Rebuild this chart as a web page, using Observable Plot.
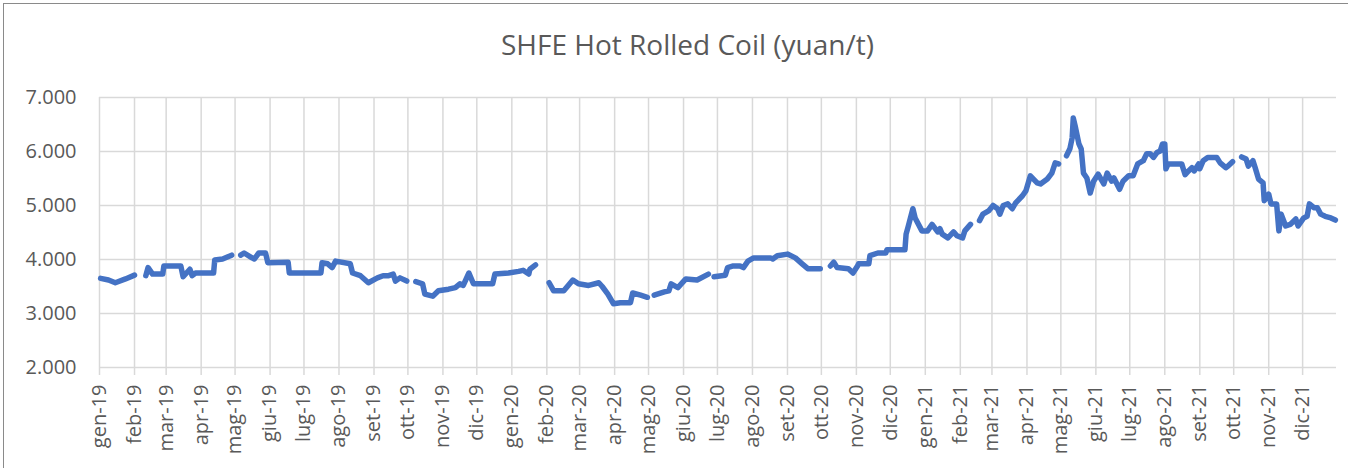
<!DOCTYPE html>
<html>
<head>
<meta charset="utf-8">
<script src="https://cdn.jsdelivr.net/npm/d3@7"></script>
<script src="https://cdn.jsdelivr.net/npm/@observablehq/plot@0.6"></script>
<style>
  html, body { margin: 0; padding: 0; background: #fff; }
  body { width: 1348px; height: 468px; position: relative; overflow: hidden; font-family: "Open Sans", sans-serif; }
  #frame { position: absolute; left: 3px; top: 3px; width: 1400px; height: 520px; border: 1.5px solid #8a8a8a; box-sizing: border-box; }
  #title { position: absolute; left: 0; top: 26px; width: 1375px; text-align: center; font-size: 28px; color: #595959; line-height: 36px; white-space: nowrap; }
  #chart { position: absolute; left: 0; top: 80px; }
</style>
</head>
<body>
<div id="frame"></div>
<div id="title">SHFE Hot Rolled Coil (yuan/t)</div>
<div id="chart"></div>
<script>
// Month abbreviations (Italian) used for tick labels
const monthNames = ["gen","feb","mar","apr","mag","giu","lug","ago","set","ott","nov","dic"];
const yTicks = [2000, 3000, 4000, 5000, 6000, 7000];

// Dates and prices (yuan/t); null marks trading gaps (holidays)
const dates = [
  "2019-01-02","2019-01-09","2019-01-15","2019-01-24","2019-02-01","2019-02-05",
  "2019-02-11","2019-02-13","2019-02-17","2019-02-26","2019-02-27","2019-03-14","2019-03-16","2019-03-22","2019-03-24","2019-03-27","2019-04-12","2019-04-13","2019-04-20","2019-04-28","2019-05-02",
  "2019-05-06","2019-05-09","2019-05-16","2019-05-18","2019-05-22","2019-05-28","2019-05-30","2019-06-17","2019-06-18","2019-07-16","2019-07-17","2019-07-22","2019-07-26","2019-07-29","2019-08-11","2019-08-13","2019-08-20","2019-08-27","2019-09-04","2019-09-09","2019-09-14","2019-09-18","2019-09-20","2019-09-24","2019-09-30","2019-10-04",
  "2019-10-08","2019-10-14","2019-10-16","2019-10-23","2019-10-28","2019-11-06","2019-11-12","2019-11-16","2019-11-19","2019-11-24","2019-11-28","2019-12-15","2019-12-17","2019-12-29","2020-01-07","2020-01-11","2020-01-16","2020-01-17","2020-01-22","2020-01-28",
  "2020-02-03","2020-02-07","2020-02-16","2020-02-24","2020-02-29","2020-03-09","2020-03-18","2020-03-21","2020-03-26","2020-03-31","2020-04-06","2020-04-15","2020-04-17","2020-04-24","2020-04-30","2020-05-03",
  "2020-05-06","2020-05-15","2020-05-19","2020-05-21","2020-05-27","2020-06-03","2020-06-13","2020-06-23","2020-06-25",
  "2020-06-28","2020-07-08","2020-07-10","2020-07-15","2020-07-21","2020-07-24","2020-07-28","2020-08-02","2020-08-17","2020-08-19","2020-08-23","2020-09-01","2020-09-08","2020-09-14","2020-09-19","2020-09-30","2020-10-04",
  "2020-10-09","2020-10-12","2020-10-15","2020-10-25","2020-10-29","2020-11-02","2020-11-03","2020-11-12","2020-11-13","2020-11-20","2020-11-27","2020-11-28","2020-12-14","2020-12-15","2020-12-17","2020-12-21","2020-12-23","2020-12-29","2021-01-03","2021-01-07","2021-01-12","2021-01-14","2021-01-16","2021-01-21","2021-01-26","2021-01-29","2021-02-03","2021-02-05","2021-02-10","2021-02-14",
  "2021-02-18","2021-02-21","2021-02-26","2021-03-02","2021-03-06","2021-03-08","2021-03-11","2021-03-15","2021-03-19","2021-03-22","2021-03-28","2021-03-31","2021-04-04","2021-04-10","2021-04-13","2021-04-19","2021-04-23","2021-04-26","2021-04-29","2021-05-02",
  "2021-05-06","2021-05-09","2021-05-11","2021-05-12","2021-05-14","2021-05-17","2021-05-19","2021-05-21","2021-05-24","2021-05-27","2021-05-30","2021-06-03","2021-06-08","2021-06-11","2021-06-15","2021-06-17","2021-06-22","2021-06-25","2021-06-30","2021-07-04","2021-07-08","2021-07-13","2021-07-16","2021-07-19","2021-07-22","2021-07-25","2021-07-28","2021-07-30","2021-08-01","2021-08-02","2021-08-04","2021-08-16","2021-08-19","2021-08-22","2021-08-25","2021-08-27","2021-08-31","2021-09-01","2021-09-04","2021-09-08","2021-09-16","2021-09-19","2021-09-24","2021-09-26","2021-09-30","2021-10-04",
  "2021-10-08","2021-10-12","2021-10-14","2021-10-18","2021-10-20","2021-10-23","2021-10-27","2021-10-28","2021-11-01","2021-11-03","2021-11-08","2021-11-10","2021-11-12","2021-11-16","2021-11-20","2021-11-25","2021-11-27","2021-12-02","2021-12-05","2021-12-07","2021-12-11","2021-12-14","2021-12-17","2021-12-21","2021-12-26","2021-12-30"
];
const values = [
  3650,3620,3570,3640,3710,null,
  3700,3850,3730,3730,3880,3880,3680,3820,3700,3750,3750,3990,4010,4080,null,
  4080,4120,4030,4010,4120,4120,3940,3950,3750,3750,3940,3920,3850,3970,3920,3750,3700,3570,3660,3700,3700,3730,3600,3660,3600,null,
  3590,3550,3360,3320,3420,3450,3480,3550,3520,3750,3550,3550,3730,3750,3780,3800,3730,3820,3900,null,
  3570,3420,3420,3620,3550,3520,3570,3500,3360,3180,3200,3200,3380,3340,3300,null,
  3340,3400,3420,3550,3480,3640,3620,3730,null,
  3680,3710,3850,3880,3880,3850,3970,4030,4030,4010,4070,4100,4030,3920,3830,3830,null,
  3880,3950,3850,3830,3750,3880,3920,3920,4070,4120,4120,4180,4180,4470,4620,4940,4770,4530,4530,4650,4510,4570,4470,4400,4510,4440,4400,4530,4650,null,
  4720,4840,4900,5000,4940,4840,5000,5030,4940,5050,5180,5270,5550,5420,5400,5490,5600,5790,5770,null,
  5920,6050,6250,6620,6440,6140,6050,5600,5510,5230,5450,5580,5400,5600,5450,5510,5300,5450,5550,5550,5770,5830,5960,5960,5890,5980,6010,6140,6140,5680,5770,5770,5570,5640,5700,5640,5770,5680,5830,5890,5890,5790,5700,5730,5810,null,
  5900,5860,5730,5830,5700,5490,5420,5090,5210,5030,5030,4530,4840,4620,4650,4750,4620,4770,4800,5030,4960,4960,4840,4800,4770,4730
];

const data = dates.map((d, i) => ({date: new Date(d), value: values[i]}));
const monthTicks = d3.utcMonth.range(new Date("2019-01-01"), new Date("2022-01-01"));
const fmtX = d => monthNames[d.getUTCMonth()] + "-" + String(d.getUTCFullYear()).slice(2);
const fmtY = d => d3.format(",.0f")(d).replace(/,/g, ".");

const chart = Plot.plot({
  width: 1348,
  height: 388,
  marginLeft: 99,
  marginRight: 12,
  marginTop: 17,
  marginBottom: 101,
  style: {fontFamily: "'Open Sans', sans-serif", fontSize: "20px", color: "#595959", background: "transparent", overflow: "visible"},
  x: {type: "utc", domain: [new Date("2019-01-01"), new Date("2021-12-31")]},
  y: {domain: [2000, 7000]},
  marks: [
    Plot.gridY(yTicks, {stroke: "#d9d9d9", strokeOpacity: 1, strokeWidth: 1.5}),
    Plot.gridX(monthTicks, {stroke: "#d9d9d9", strokeOpacity: 1, strokeWidth: 1.5}),
    Plot.axisY(yTicks, {tickSize: 0, tickPadding: 23, tickFormat: fmtY, label: null, fill: "#595959", fontSize: 20}),
    Plot.axisX(monthTicks, {tickSize: 8, tickPadding: 9, tickRotate: -90, tickFormat: fmtX, label: null, stroke: "#d9d9d9", strokeWidth: 1.5, strokeOpacity: 1, fill: "#595959", fontSize: 20}),
    Plot.line(data, {x: "date", y: "value", stroke: "#4472C4", strokeWidth: 5.5, strokeLinejoin: "round", strokeLinecap: "round", curve: "linear"})
  ]
});
document.getElementById("chart").appendChild(chart);
</script>
</body>
</html>
